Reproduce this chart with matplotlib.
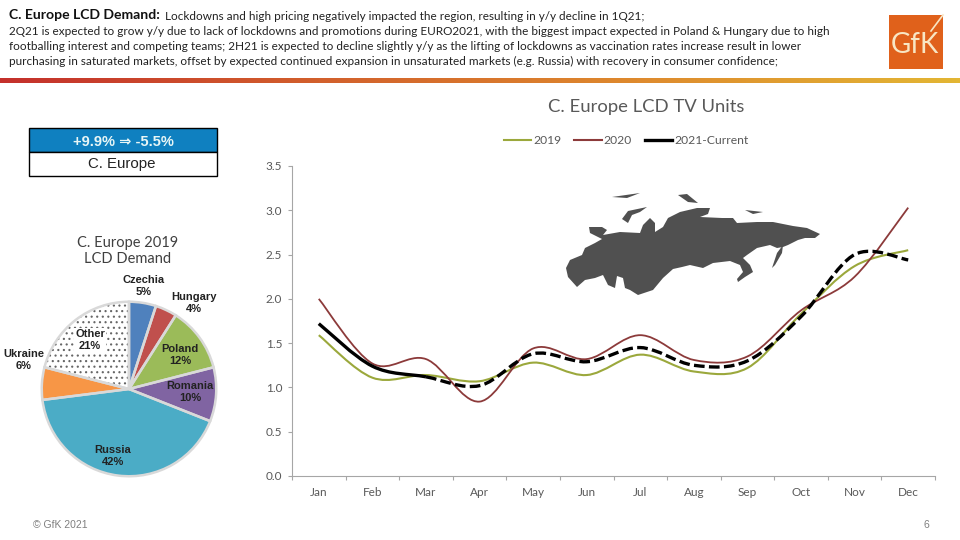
import matplotlib

matplotlib.use("Agg")

import matplotlib.pyplot as plt
import numpy as np
from matplotlib.colors import LinearSegmentedColormap
from matplotlib.lines import Line2D
from matplotlib.patches import PathPatch, Polygon, Rectangle
from matplotlib.path import Path

months = ["Jan", "Feb", "Mar", "Apr", "May", "Jun", "Jul", "Aug", "Sep", "Oct", "Nov", "Dec"]
units_2019 = [1.59, 1.11, 1.14, 1.07, 1.28, 1.14, 1.37, 1.18, 1.22, 1.83, 2.37, 2.55]
units_2020 = [2.00, 1.27, 1.32, 0.84, 1.44, 1.32, 1.59, 1.31, 1.35, 1.87, 2.25, 3.03]
units_2021 = [1.72, 1.24, 1.12, 1.02, 1.38, 1.29, 1.45, 1.25, 1.30, 1.80, 2.50, 2.44]
last_actual = 2  # 2021 is solid up to Mar, forecast after that

pie_labels = ["Czechia", "Hungary", "Poland", "Romania", "Russia", "Ukraine", "Other"]
pie_values = [5, 4, 12, 10, 42, 6, 21]
pie_colors = ["#4F81BD", "#C0504D", "#9BBB59", "#8064A2", "#4BACC6", "#F79646", "#FFFFFF"]
pie_label_xy = [(144, 286), (194, 303), (180, 355), (190, 392), (113, 456), (24, 360), (90, 340)]

header_bold = "C. Europe LCD Demand:"
header_lines = [
    "Lockdowns and high pricing negatively impacted the region, resulting in y/y decline in 1Q21;",
    "2Q21 is expected to grow y/y due to lack of lockdowns and promotions during EURO2021, with the biggest impact expected in Poland & Hungary due to high",
    "footballing interest and competing teams; 2H21 is expected to decline slightly y/y as the lifting of lockdowns as vaccination rates increase result in lower",
    "purchasing in saturated markets, offset by expected continued expansion in unsaturated markets (e.g. Russia) with recovery in consumer confidence;",
]

# rough outlines of the map, in figure pixels
russia_outline = [
    (566, 268), (570, 260), (582, 255), (585, 248), (595, 243), (602, 239), (590, 233), (589, 227), (602, 227),
    (607, 230), (603, 235), (620, 232), (640, 233), (643, 225), (650, 218), (655, 223), (655, 232), (663, 227),
    (668, 218), (680, 212), (697, 208), (710, 208), (708, 214), (700, 217), (722, 218), (733, 218), (737, 223),
    (757, 222), (773, 222), (793, 226), (807, 228), (820, 234), (815, 238), (805, 238), (798, 240), (788, 245),
    (783, 247), (777, 248), (770, 245), (757, 248), (747, 255), (743, 258), (750, 265), (753, 272), (745, 277),
    (738, 282), (737, 279), (743, 272), (740, 265), (730, 261), (713, 263), (703, 268), (690, 265), (682, 267),
    (673, 269), (663, 278), (653, 290), (638, 295), (630, 290), (625, 288), (623, 278), (617, 276), (615, 288),
    (608, 285), (603, 275), (595, 278), (585, 280), (577, 287), (568, 277),
]
island_outlines = [
    [(622, 219), (628, 211), (647, 207), (640, 212), (632, 215), (628, 223)],
    [(772, 268), (777, 253), (783, 245), (782, 253), (775, 265)],
    [(612, 197), (640, 193), (627, 198)],
    [(678, 195), (687, 194), (698, 203), (688, 202)],
    [(745, 210), (763, 212), (753, 214)],
]

plt.rcParams["font.family"] = ["Lato", "DejaVu Sans"]
plt.rcParams["hatch.linewidth"] = 0.8
ARIAL = ["Liberation Sans", "DejaVu Sans"]
GREY = "#595959"
AXIS_GREY = "#A6A6A6"

fig = plt.figure(figsize=(9.6, 5.4), dpi=100, facecolor="white")

# overlay in pixel coordinates for the slide furniture
page = fig.add_axes([0, 0, 1, 1], zorder=0)
page.axis("off")

page.text(9, 15, header_bold, fontsize=10.1, fontweight="bold", color="#111111", va="center")
page.text(165, 16.5, header_lines[0], fontsize=8.45, color="#222222", va="center")
for i, line in enumerate(header_lines[1:]):
    page.text(9, 31.5 + i * 15, line, fontsize=8.45, color="#222222", va="center")

bar_cmap = LinearSegmentedColormap.from_list("bar", ["#C4302B", "#D2602C", "#DE8A2E", "#E3B634"])
page.imshow(np.linspace(0, 1, 256).reshape(1, -1), cmap=bar_cmap, aspect="auto", extent=(0, 960, 83, 78))
page.set_xlim(0, 960)
page.set_ylim(540, 0)

# logo
page.add_patch(Rectangle((889, 15), 54, 54, facecolor="#E0611B", edgecolor="none"))
page.text(915, 45, "GfK", fontsize=20, color="#F8E6C4", ha="center", va="center")
page.plot([931, 943], [31, 15], color="#F8E6C4", lw=1.2)

# growth box
page.add_patch(Rectangle((29, 128), 188, 24, facecolor="#0F80C0", edgecolor="black", lw=1))
page.add_patch(Rectangle((29, 152), 188, 24, facecolor="white", edgecolor="black", lw=1))
page.text(123, 141.5, "+9.9% ⇒ -5.5%", fontsize=10.5, fontweight="bold", color="#E8F6F6",
          ha="center", va="center", family=ARIAL)
page.text(122, 164, "C. Europe", fontsize=10.8, color="#222222", ha="center", va="center", family=ARIAL)

for outline in [russia_outline] + island_outlines:
    page.add_patch(Polygon(outline, closed=True, facecolor="#505050", edgecolor="none"))

page.text(128, 251, "C. Europe 2019\nLCD Demand", fontsize=10.5, color="#404040", ha="center", va="center",
          linespacing=1.25)
page.text(646, 107, "C. Europe LCD TV Units", fontsize=13.3, color=GREY, ha="center", va="center")
page.text(33, 525, "© GfK 2021", fontsize=7.5, color="#7F7F7F", va="center", family=ARIAL)
page.text(923, 525, "6", fontsize=7.5, color="#7F7F7F", va="center", family=ARIAL)

# pie
pie_ax = fig.add_axes([40 / 960, 1 - 478 / 540, 178 / 960, 178 / 540], zorder=1)
wedges, _ = pie_ax.pie(pie_values, colors=pie_colors, startangle=90, counterclock=False, radius=1.0)
other = wedges[-1]
other.set_hatch("...")
other.set_edgecolor("#666666")
other.set_linewidth(0)
pie_ax.pie(pie_values, colors=["none"] * len(pie_values), startangle=90, counterclock=False, radius=1.0,
           wedgeprops={"edgecolor": "#D9D9D9", "linewidth": 1.8})
pie_ax.set_xlim(-1.02, 1.02)
pie_ax.set_ylim(-1.02, 1.02)

# line chart
ax = fig.add_axes([292 / 960, 1 - 476 / 540, 643 / 960, 310 / 540], zorder=2)
ax.patch.set_alpha(0)


def smooth_path(values, start=0, end=None):
    """Office style smoothed line through the monthly values, as bezier segments."""
    end = len(values) - 1 if end is None else end
    pts = np.column_stack([np.arange(len(values)), values]).astype(float)
    verts = [pts[start]]
    codes = [Path.MOVETO]
    for i in range(start, end):
        p0 = pts[max(i - 1, 0)]
        p3 = pts[min(i + 2, len(pts) - 1)]
        verts += [pts[i] + (pts[i + 1] - p0) / 6, pts[i + 1] - (p3 - pts[i]) / 6, pts[i + 1]]
        codes += [Path.CURVE4] * 3
    return Path(verts, codes)


def add_curve(values, color, lw, start=0, end=None, **kw):
    ax.add_patch(PathPatch(smooth_path(values, start, end), facecolor="none", edgecolor=color, lw=lw,
                           capstyle="butt", **kw))


add_curve(units_2019, "#9BA83C", 1.5)
add_curve(units_2020, "#8C3A3A", 1.3)
add_curve(units_2021, "black", 2.4, end=last_actual)
add_curve(units_2021, "black", 2.4, start=last_actual, linestyle=(0, (3.2, 1.3)))

ax.set_xlim(-0.5, 11.5)
ax.set_ylim(0, 3.5)
ax.set_yticks(np.arange(0, 3.6, 0.5))
ax.set_xticks(np.arange(-0.5, 12, 1))
ax.set_xticklabels([])
ax.set_xticks(range(len(months)), months, minor=True)
ax.tick_params(axis="x", which="major", length=3, color=AXIS_GREY, width=0.8)
ax.tick_params(axis="x", which="minor", length=0, pad=8, labelsize=8.5, labelcolor=GREY)
ax.tick_params(axis="y", length=3, color=AXIS_GREY, width=0.8, pad=4, labelsize=8.5, labelcolor=GREY)
for side in ["top", "right"]:
    ax.spines[side].set_visible(False)
for side in ["left", "bottom"]:
    ax.spines[side].set_color(AXIS_GREY)
    ax.spines[side].set_linewidth(0.8)

handles = [
    Line2D([], [], color="#9BA83C", lw=1.5),
    Line2D([], [], color="#8C3A3A", lw=1.5),
    Line2D([], [], color="black", lw=2.4),
]
ax.legend(handles, ["2019", "2020", "2021-Current"], ncol=3, frameon=False, fontsize=8.7, labelcolor=GREY,
          loc="center", bbox_to_anchor=((626 - 292) / 643, (476 - 141) / 310), handlelength=2.3,
          handletextpad=0.15, columnspacing=1.05)

# pie labels go on top of everything
text_ax = fig.add_axes([0, 0, 1, 1], zorder=3)
text_ax.set_xlim(0, 960)
text_ax.set_ylim(540, 0)
text_ax.axis("off")
for name, value, (x, y) in zip(pie_labels, pie_values, pie_label_xy):
    box = {"facecolor": "white", "edgecolor": "none", "pad": 0.5} if name == "Other" else None
    text_ax.text(x, y, f"{name}\n{value}%", fontsize=8, fontweight="bold", color="#222222", ha="center",
                 va="center", family=ARIAL, linespacing=1.25, bbox=box)

fig.savefig("out.png", dpi=100)
plt.close(fig)
